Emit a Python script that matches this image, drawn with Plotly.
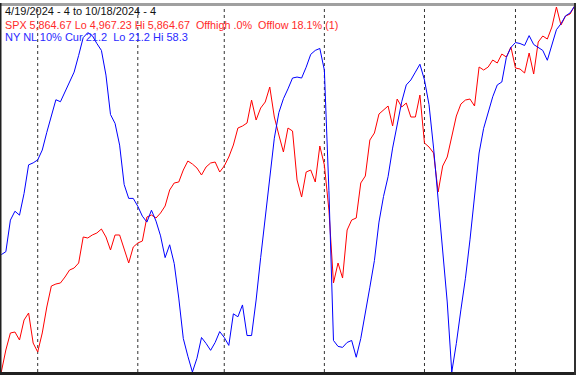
import pandas as pd
import plotly.graph_objects as go

# Trading days 4/19/2024 .. 10/18/2024 (NYSE holidays excluded)
holidays = ["2024-05-27", "2024-06-19", "2024-07-04", "2024-09-02"]
days = [d for d in pd.bdate_range("2024-04-19", "2024-10-18") if d.strftime("%Y-%m-%d") not in holidays]
dates = [d.strftime("%Y-%m-%d") for d in days]

spx = [4967.2, 5021.2, 5062.9, 5065.3, 5045.7, 5094.7, 5111.9, 5038.3, 5016.3, 5062.9,
       5126.6, 5178.1, 5183.0, 5185.5, 5200.2, 5217.3, 5222.2, 5234.5, 5298.3, 5295.8,
       5303.2, 5308.1, 5317.9, 5298.3, 5266.4, 5303.2, 5303.2, 5271.3, 5234.5, 5273.7,
       5283.5, 5288.4, 5347.3, 5352.2, 5344.8, 5357.1, 5374.3, 5413.5, 5430.7, 5433.1,
       5462.5, 5484.6, 5477.2, 5467.4, 5450.3, 5469.9, 5479.7, 5482.1, 5457.6, 5472.3,
       5494.4, 5523.8, 5565.5, 5570.4, 5577.8, 5634.1, 5585.1, 5614.5, 5629.3, 5666.0,
       5592.5, 5548.3, 5506.7, 5565.5, 5558.2, 5438.0, 5396.3, 5457.6, 5462.5, 5433.1,
       5521.4, 5474.8, 5364.5, 5185.5, 5234.5, 5197.7, 5315.4, 5339.9, 5344.8, 5430.7,
       5447.8, 5536.1, 5553.3, 5599.8, 5609.7, 5619.5, 5570.4, 5636.6, 5617.0, 5626.8,
       5592.5, 5592.5, 5646.4, 5528.7, 5518.9, 5504.2, 5408.6, 5472.3, 5494.4, 5548.3,
       5594.9, 5624.3, 5634.1, 5636.6, 5619.5, 5715.1, 5707.7, 5715.1, 5732.2, 5724.9,
       5746.9, 5739.6, 5764.1, 5712.6, 5710.2, 5700.4, 5749.4, 5697.9, 5776.4, 5791.1,
       5783.7, 5813.1, 5862.2, 5818.0, 5840.1, 5845.0, 5864.67]

ny_nl = [46.4, 46.1, 42.9, 42.0, 42.4, 40.2, 37.3, 37.1, 36.8, 35.8,
         34.0, 32.2, 30.7, 30.9, 29.9, 29.0, 27.9, 26.2, 24.4, 23.9,
         24.2, 25.0, 25.7, 28.2, 32.2, 33.1, 35.3, 39.3, 40.7, 40.7,
         41.5, 42.5, 43.1, 41.9, 43.0, 44.5, 46.7, 45.4, 47.3, 50.8,
         54.9, 56.7, 58.3, 56.9, 54.8, 55.4, 56.1, 55.3, 54.2, 54.8,
         55.6, 52.4, 52.7, 51.5, 54.6, 54.6, 51.0, 46.7, 42.6, 38.8,
         34.6, 32.0, 30.6, 29.6, 28.5, 28.4, 28.5, 27.4, 26.1, 25.7,
         25.5, 27.7, 39.9, 55.1, 55.7, 55.8, 55.3, 55.1, 56.8, 54.9,
         52.5, 49.7, 47.0, 43.1, 40.5, 38.5, 35.6, 33.3, 30.9, 29.2,
         28.7, 27.9, 27.1, 28.7, 31.2, 35.6, 40.9, 45.4, 51.2, 58.3,
         55.4, 52.0, 48.8, 44.9, 40.6, 36.1, 33.6, 31.9, 30.4, 29.2,
         28.9, 26.4, 25.4, 24.9, 25.0, 25.2, 24.2, 25.1, 25.4, 25.7,
         26.7, 25.2, 23.6, 23.0, 22.2, 21.9, 21.2]

header = "4/19/2024 - 4 to 10/18/2024 - 4"
spx_label = "SPX 5,864.67 Lo 4,967.23 Hi 5,864.67  Offhigh .0%  Offlow 18.1% (1)"
nl_label = "NY NL 10% Cur 21.2  Lo 21.2 Hi 58.3"

# first trading day of each month after the start
month_starts = [dates[i] for i in range(1, len(dates)) if dates[i][5:7] != dates[i - 1][5:7]]

W, H = 576, 375
fig = go.Figure()
fig.add_trace(go.Scatter(x=dates, y=spx, mode="lines", line=dict(color="#ff0000", width=1),
                         yaxis="y", hoverinfo="skip"))
fig.add_trace(go.Scatter(x=dates, y=ny_nl, mode="lines", line=dict(color="#0000ff", width=1),
                         yaxis="y2", hoverinfo="skip"))

shapes = []
for d in month_starts:
    shapes.append(dict(type="line", xref="x", yref="paper", x0=d, x1=d, y0=3 / H, y1=1 - 6 / H,
                       line=dict(color="#333333", width=1, dash="3px,3px"), layer="below"))
# window frame
shapes += [
    dict(type="rect", xref="paper", yref="paper", x0=0, x1=1, y0=1 - 6 / H, y1=1 - 3 / H,
         fillcolor="#a0a0a0", line=dict(width=0)),
    dict(type="rect", xref="paper", yref="paper", x0=0, x1=1, y0=0, y1=3 / H,
         fillcolor="#202020", line=dict(width=0)),
    dict(type="rect", xref="paper", yref="paper", x0=0, x1=1.5 / W, y0=0, y1=1 - 3 / H,
         fillcolor="#202020", line=dict(width=0)),
    dict(type="rect", xref="paper", yref="paper", x0=1 - 2 / W, x1=1, y0=0, y1=1 - 3 / H,
         fillcolor="#303030", line=dict(width=0)),
]

font = "Liberation Sans, Arial, sans-serif"
annotations = [
    dict(text=header, x=3 / W, y=1 - 11.5 / H, font=dict(color="#111111", size=11, family=font)),
    dict(text=spx_label, x=3 / W, y=1 - 24.5 / H, font=dict(color="#ff2a2a", size=10.8, family=font)),
    dict(text=nl_label, x=3 / W, y=1 - 37.5 / H, font=dict(color="#2a2aff", size=11, family=font)),
]
for a in annotations:
    a.update(xref="paper", yref="paper", xanchor="left", yanchor="middle", showarrow=False)

fig.update_layout(
    width=W, height=H, margin=dict(l=0, r=0, t=0, b=0),
    paper_bgcolor="white", plot_bgcolor="white", showlegend=False,
    xaxis=dict(type="category", range=[-0.286, 126.3], visible=False, showgrid=False),
    yaxis=dict(range=[4959.9, 5879.4], visible=False, showgrid=False),
    yaxis2=dict(range=[58.6, 20.59], overlaying="y", visible=False, showgrid=False),
    shapes=shapes, annotations=annotations,
)
fig.write_html("out.html", config={"displayModeBar": False, "staticPlot": True},
               post_script="document.body.style.margin='0';document.body.style.overflow='hidden';")
